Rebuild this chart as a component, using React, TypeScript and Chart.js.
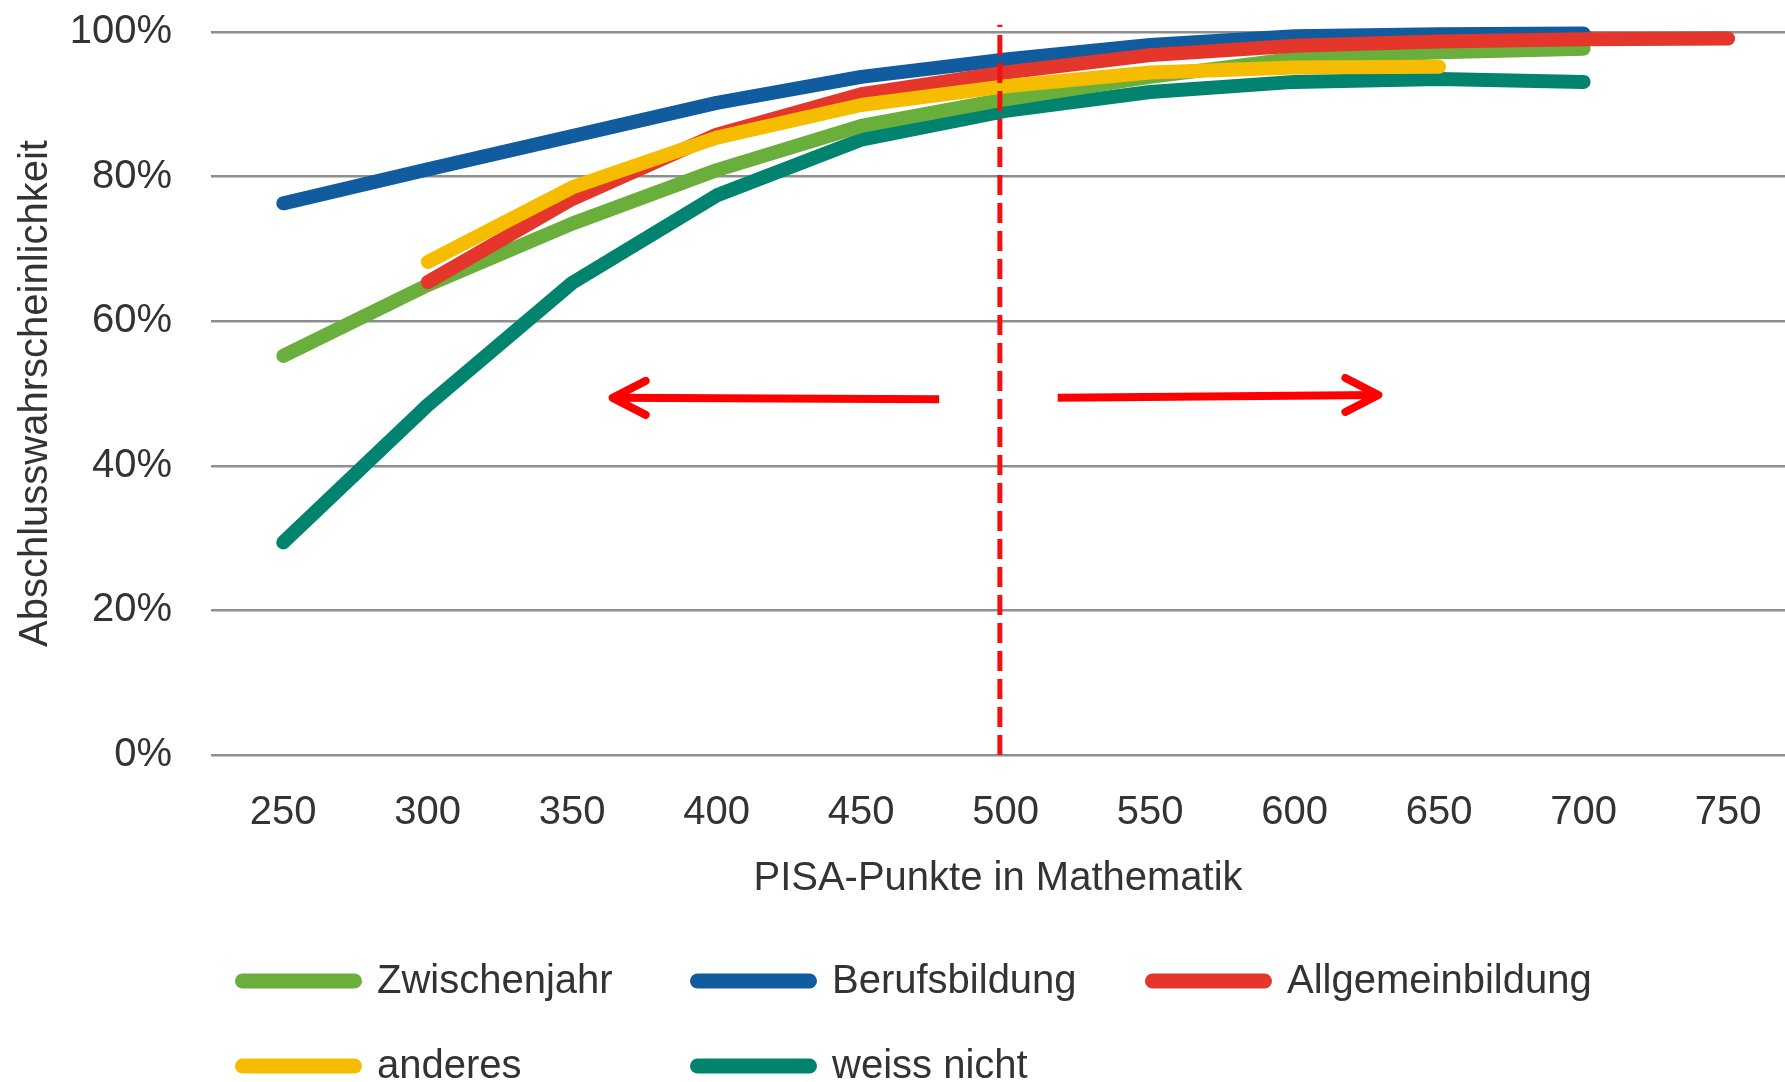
import React, { useEffect, useRef } from "react";
import { Chart, registerables } from "chart.js";

Chart.register(...registerables);

const scores = [250, 300, 350, 400, 450, 500, 550, 600, 650, 700, 750];
const yTicks = [0, 20, 40, 60, 80, 100];

const seriesNames = ["Zwischenjahr", "Berufsbildung", "Allgemeinbildung", "anderes", "weiss nicht"];
const seriesColors = ["#6aaf3b", "#105c9e", "#e5362b", "#f6bd00", "#00846f"];

const zwischenjahr = [55.2, 65.0, 73.5, 80.9, 87.0, 90.7, 93.8, 96.3, 97.2, 97.7, null];
const berufsbildung = [76.3, 81.0, 85.6, 90.2, 93.8, 96.2, 98.2, 99.4, 99.7, 99.8, null];
const allgemeinbildung = [null, 65.4, 76.9, 85.8, 91.4, 94.4, 96.8, 98.1, 98.7, 99.0, 99.1];
const anderes = [null, 68.2, 78.5, 85.4, 89.9, 92.5, 94.4, 95.1, 95.2, null, null];
const weissNicht = [29.4, 48.4, 65.3, 77.4, 85.1, 89.1, 91.7, 93.1, 93.5, 93.1, null];

const seriesValues = [zwischenjahr, berufsbildung, allgemeinbildung, anderes, weissNicht];
// drawing order: higher = underneath
const seriesOrder = [3, 5, 2, 1, 4];

// annotations
const markerScore = 498;
const markerTop = 101;
const arrowLeft = { from: [477, 49.2], to: [364, 49.4] };
const arrowRight = { from: [518, 49.4], to: [629, 49.8] };

const TEXT = "#333333";
const FONT = "'Liberation Sans', Arial, Helvetica, sans-serif";

const annotationPlugin = {
  id: "annotations",
  afterDatasetsDraw(chart: any) {
    const { ctx, scales } = chart;
    const x = scales.x;
    const y = scales.y;
    ctx.save();
    ctx.strokeStyle = "#f21010";
    ctx.lineWidth = 5;
    ctx.setLineDash([20, 8]);
    ctx.lineCap = "butt";
    const mx = x.getPixelForValue(markerScore);
    ctx.beginPath();
    ctx.moveTo(mx, y.getPixelForValue(0));
    ctx.lineTo(mx, y.getPixelForValue(markerTop));
    ctx.stroke();
    ctx.setLineDash([]);

    const drawArrow = (a: any) => {
      const x0 = x.getPixelForValue(a.from[0]);
      const y0 = y.getPixelForValue(a.from[1]);
      const x1 = x.getPixelForValue(a.to[0]);
      const y1 = y.getPixelForValue(a.to[1]);
      ctx.strokeStyle = "#ff0000";
      ctx.lineWidth = 8;
      ctx.lineCap = "butt";
      ctx.beginPath();
      ctx.moveTo(x0, y0);
      ctx.lineTo(x1, y1);
      ctx.stroke();
      const dir = Math.sign(x1 - x0);
      ctx.lineCap = "round";
      ctx.lineJoin = "round";
      ctx.beginPath();
      ctx.moveTo(x1 - dir * 33, y1 - 17);
      ctx.lineTo(x1, y1);
      ctx.lineTo(x1 - dir * 33, y1 + 17);
      ctx.stroke();
    };
    drawArrow(arrowLeft);
    drawArrow(arrowRight);
    ctx.restore();
  },
};

const legendPlugin = {
  id: "gridLegend",
  afterDraw(chart: any) {
    const { ctx } = chart;
    const colX0 = 235;
    const colPitch = 455;
    const rowY0 = 981;
    const rowPitch = 85;
    const perRow = 3;
    ctx.save();
    ctx.font = `40px ${FONT}`;
    ctx.textBaseline = "middle";
    ctx.textAlign = "left";
    seriesNames.forEach((name, i) => {
      const col = i % perRow;
      const row = Math.floor(i / perRow);
      const x = colX0 + col * colPitch;
      const yy = rowY0 + row * rowPitch;
      ctx.strokeStyle = seriesColors[i];
      ctx.lineWidth = 15;
      ctx.lineCap = "round";
      ctx.beginPath();
      ctx.moveTo(x + 7.5, yy);
      ctx.lineTo(x + 127 - 7.5, yy);
      ctx.stroke();
      ctx.fillStyle = TEXT;
      ctx.fillText(name, x + 142, yy + 1);
    });
    ctx.restore();
  },
};

export default function App() {
  const canvasRef = useRef<HTMLCanvasElement | null>(null);

  useEffect(() => {
    if (!canvasRef.current) return;
    Chart.defaults.font.family = FONT;
    const datasets = seriesNames.map((name, i) => ({
      label: name,
      data: scores.map((s, j) => ({ x: s, y: seriesValues[i][j] })),
      borderColor: seriesColors[i],
      backgroundColor: seriesColors[i],
      borderWidth: 14,
      borderCapStyle: "round" as const,
      borderJoinStyle: "round" as const,
      pointRadius: 0,
      tension: 0,
      spanGaps: false,
      clip: false as any,
      order: seriesOrder[i],
    }));

    const chart = new Chart(canvasRef.current, {
      type: "line",
      data: { datasets },
      plugins: [annotationPlugin, legendPlugin],
      options: {
        animation: false,
        responsive: true,
        maintainAspectRatio: false,
        layout: { padding: { left: 12, top: 32, right: 0, bottom: 179 } },
        plugins: {
          legend: { display: false },
          tooltip: { enabled: false },
        },
        scales: {
          x: {
            type: "linear",
            min: 225,
            max: 769.7,
            afterBuildTicks: (scale: any) => {
              scale.ticks = scores.map((v) => ({ value: v }));
            },
            afterFit: (scale: any) => {
              scale.height = 148;
              scale.paddingLeft = 0;
              scale.paddingRight = 0;
            },
            grid: { display: false },
            border: { display: false },
            ticks: {
              color: TEXT,
              font: { size: 40, family: FONT },
              padding: 26,
              maxRotation: 0,
              autoSkip: false,
              callback: (v: any) => String(v),
            },
            title: {
              display: true,
              text: "PISA-Punkte in Mathematik",
              color: TEXT,
              font: { size: 40, family: FONT },
              padding: { top: 20, bottom: 0 },
            },
          },
          y: {
            min: 0,
            max: 100,
            afterBuildTicks: (scale: any) => {
              scale.ticks = yTicks.map((v) => ({ value: v }));
            },
            afterFit: (scale: any) => {
              scale.width = 199;
              scale.paddingTop = 0;
              scale.paddingBottom = 0;
            },
            grid: { color: "#8e8e8e", lineWidth: 2.5, drawTicks: false },
            border: { display: false },
            ticks: {
              color: TEXT,
              font: { size: 40, family: FONT },
              padding: 39,
              callback: (v: any) => `${v}%`,
            },
            title: {
              display: true,
              text: "Abschlusswahrscheinlichkeit",
              color: TEXT,
              font: { size: 40, family: FONT },
              padding: { top: 0, bottom: 0 },
            },
          },
        },
      },
    });
    return () => chart.destroy();
  }, []);

  return (
    <div style={{ position: "absolute", left: 0, top: 0, width: 1785, height: 1082, background: "#fff" }}>
      <canvas ref={canvasRef} />
    </div>
  );
}
